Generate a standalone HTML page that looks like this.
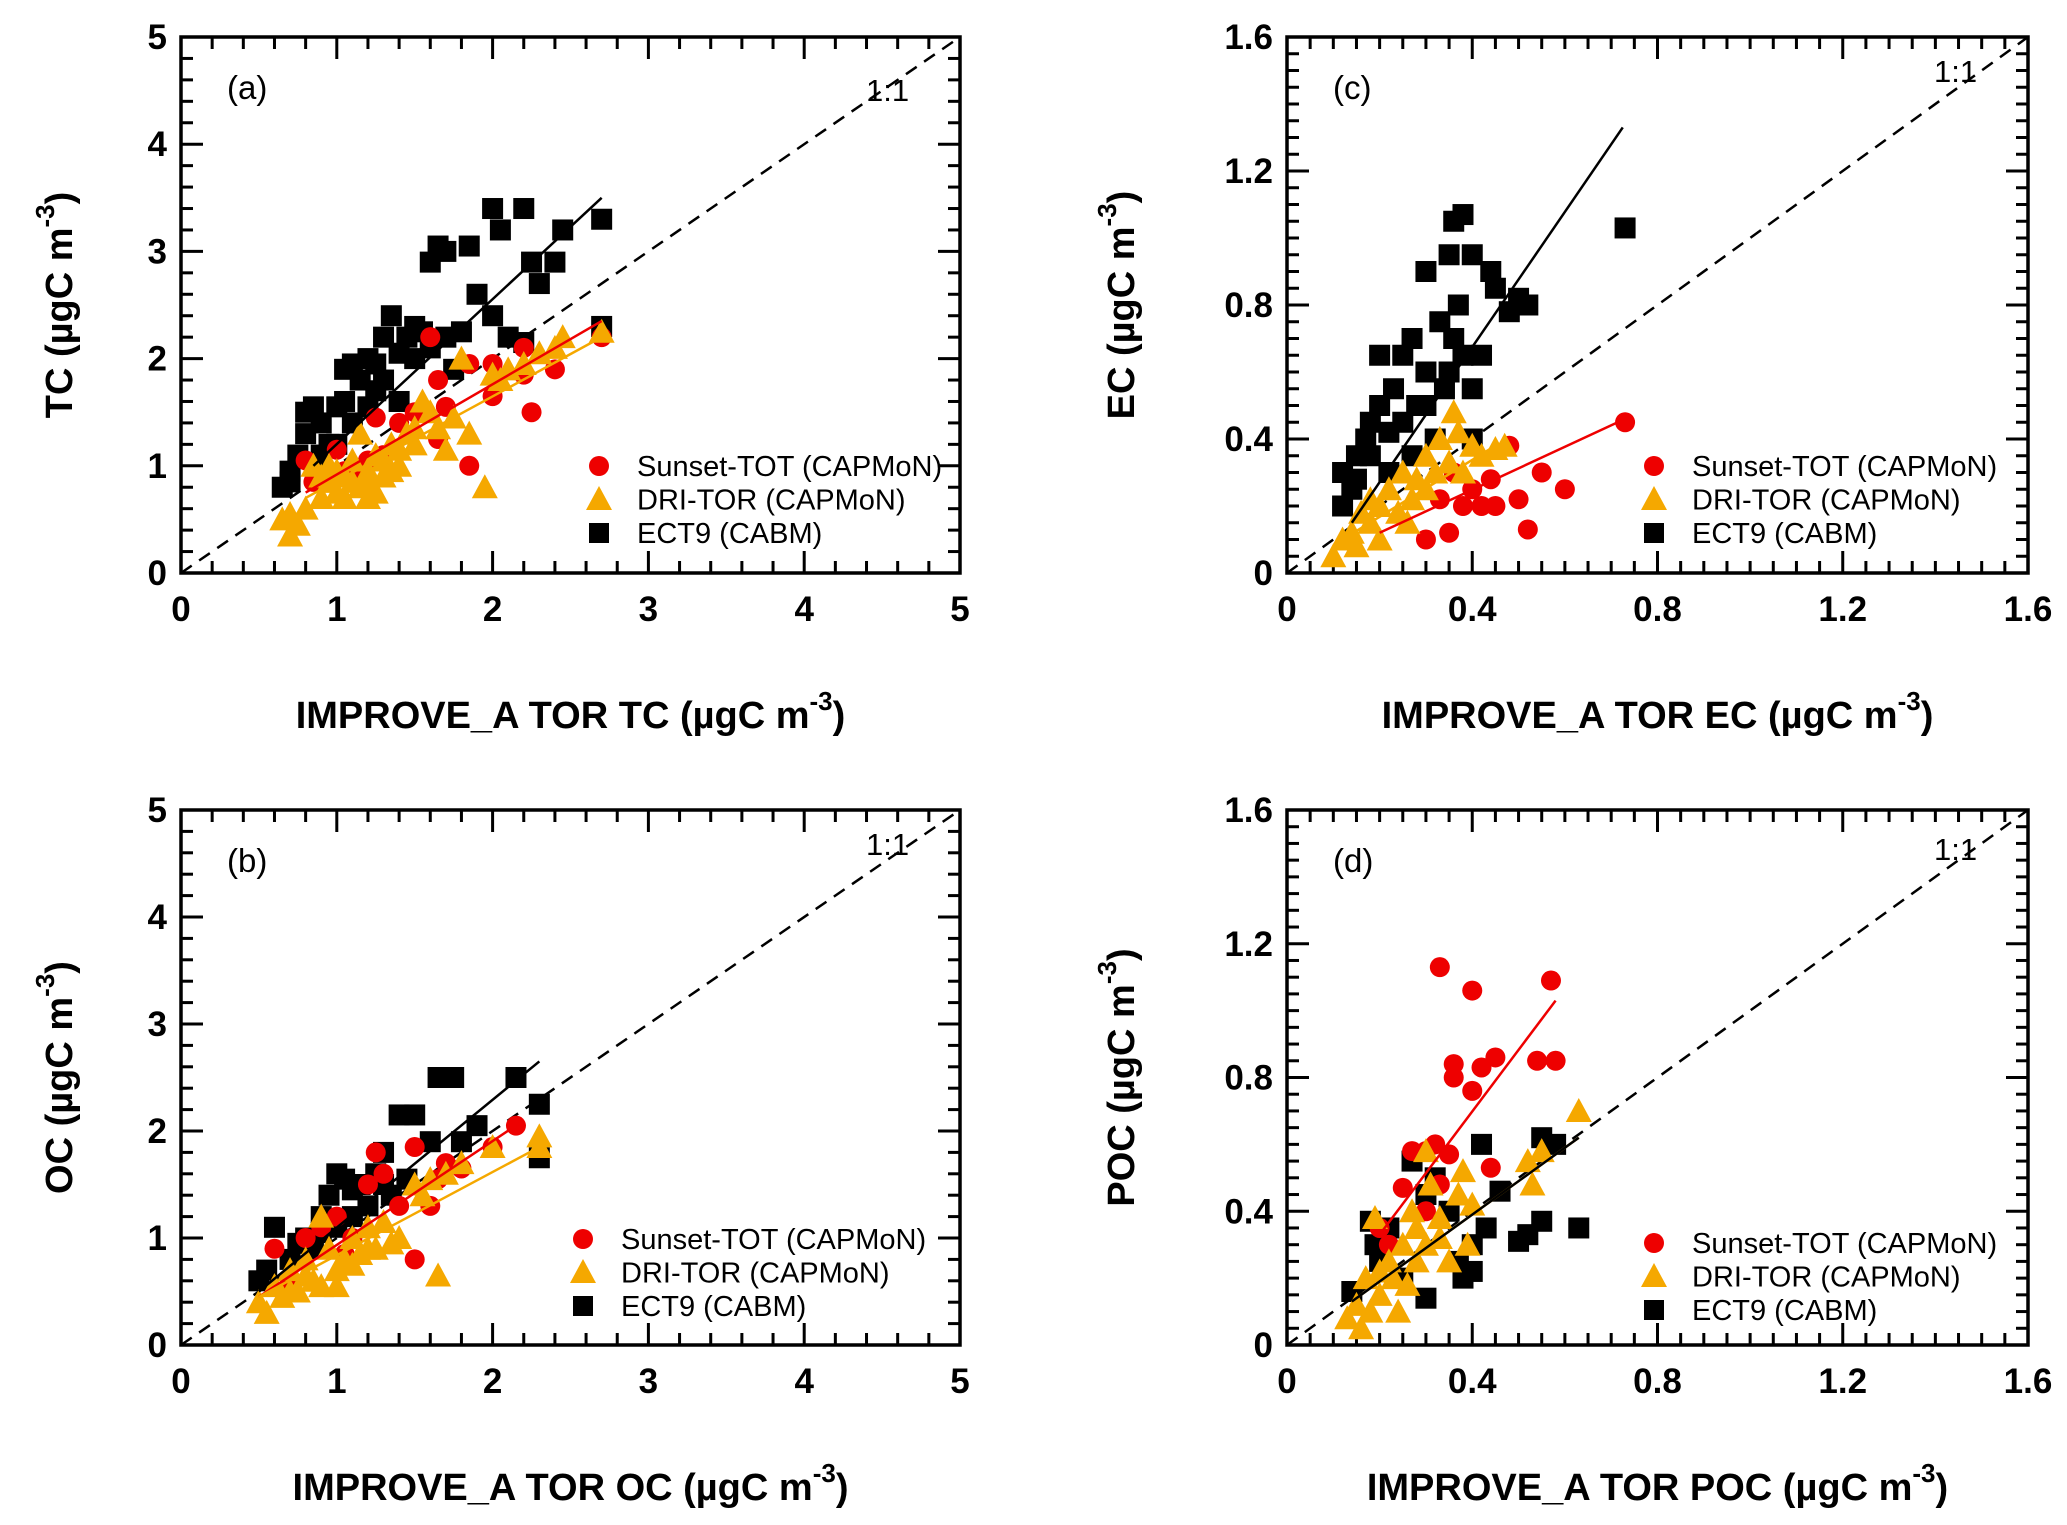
<!DOCTYPE html>
<html><head><meta charset="utf-8"><style>
html,body{margin:0;padding:0;background:#fff}
svg{display:block}
text{font-family:"Liberation Sans",Arial,sans-serif}
</style></head><body>
<svg id="fig" width="2067" height="1525" viewBox="0 0 2067 1525" xmlns="http://www.w3.org/2000/svg"></svg>
<script>
// ---- Panel (a) TC ----
const aBlack=[[0.65,0.8],[0.7,0.95],[0.7,0.85],[0.8,1.5],[0.85,1.55],[0.8,1.3],[0.9,1.4],[0.95,1.2],[1.0,1.55],[1.05,1.9],[1.1,1.95],[1.15,1.8],[1.2,2.0],[1.25,1.7],[1.3,2.2],[1.35,2.4],[1.4,1.6],[1.45,2.2],[1.5,2.3],[1.55,2.25],[1.6,2.9],[1.65,3.05],[1.7,3.0],[1.75,1.9],[1.8,2.25],[1.85,3.05],[1.9,2.6],[2.0,2.4],[2.0,3.4],[2.05,3.2],[2.1,2.2],[2.2,3.4],[2.25,2.9],[2.3,2.7],[2.4,2.9],[2.45,3.2],[2.7,3.3],[2.7,2.3],[1.0,1.2],[1.1,1.4],[0.9,1.1],[1.2,1.55],[1.3,1.8],[1.5,2.0],[2.2,2.15],[0.75,1.1],[1.05,1.6],[1.25,1.95],[1.4,2.05],[1.6,2.1],[1.7,2.2]];
const aRed=[[0.8,1.05],[0.85,0.85],[1.0,1.15],[1.05,0.95],[1.2,1.05],[1.25,1.45],[1.4,1.4],[1.5,1.5],[1.6,2.2],[1.65,1.8],[1.7,1.55],[1.65,1.25],[1.85,1.0],[1.85,1.95],[2.0,1.95],[2.0,1.65],[2.2,2.1],[2.2,1.85],[2.25,1.5],[2.4,1.9],[2.7,2.2],[1.3,1.1],[1.1,0.9]];
const aOrange=[[0.65,0.5],[0.7,0.35],[0.7,0.55],[0.75,0.45],[0.8,0.6],[0.85,1.0],[0.9,0.7],[0.95,0.85],[1.0,0.75],[1.0,0.95],[1.05,0.7],[1.1,0.85],[1.1,1.05],[1.15,1.3],[1.2,0.7],[1.2,0.95],[1.25,0.75],[1.3,1.05],[1.3,0.9],[1.35,1.2],[1.4,1.0],[1.45,1.3],[1.5,1.2],[1.55,1.6],[1.6,1.5],[1.65,1.35],[1.7,1.15],[1.75,1.45],[1.8,2.0],[1.85,1.3],[1.95,0.8],[2.0,1.85],[2.05,1.8],[2.1,1.9],[2.2,1.95],[2.3,2.05],[2.4,2.1],[2.45,2.2],[2.7,2.25],[0.95,1.0],[1.15,0.8],[1.35,0.95],[1.25,1.1],[0.9,0.9],[1.05,0.9],[1.2,0.85],[1.4,1.15],[1.5,1.35]];
const aFits=[["#000",0.85,1.0,2.7,3.5],["#e00",0.8,0.75,2.7,2.35],["#f5a800",0.8,0.7,2.7,2.2]];
// ---- Panel (b) OC ----
const bBlack=[[0.5,0.6],[0.55,0.7],[0.6,1.1],[0.7,0.8],[0.75,0.95],[0.8,1.0],[0.9,1.2],[0.95,1.4],[1.0,1.6],[1.05,1.55],[1.1,1.2],[1.15,1.5],[1.2,1.3],[1.25,1.6],[1.3,1.8],[1.35,1.4],[1.4,2.15],[1.45,1.55],[1.5,2.15],[1.6,1.9],[1.65,2.5],[1.75,2.5],[1.8,1.9],[1.9,2.05],[2.15,2.5],[2.3,2.25],[2.3,1.75],[1.0,1.1],[0.85,0.9],[0.9,1.05],[1.1,1.45],[1.3,1.5]];
const bRed=[[0.6,0.9],[0.8,1.0],[0.9,1.1],[1.0,1.2],[1.1,1.0],[1.2,1.5],[1.25,1.8],[1.3,1.6],[1.5,0.8],[1.5,1.85],[1.6,1.3],[1.65,1.55],[1.7,1.7],[1.8,1.65],[2.0,1.85],[2.15,2.05],[1.4,1.3],[0.7,0.6],[1.05,0.85]];
const bOrange=[[0.5,0.4],[0.55,0.3],[0.6,0.55],[0.65,0.45],[0.7,0.7],[0.75,0.5],[0.8,0.8],[0.85,0.6],[0.9,0.55],[0.95,0.9],[1.0,0.7],[1.05,0.8],[1.1,1.0],[1.15,0.85],[1.2,1.1],[1.25,0.9],[1.3,1.15],[1.35,0.95],[1.4,1.0],[1.5,1.5],[1.55,1.4],[1.6,1.55],[1.65,0.65],[1.7,1.6],[1.8,1.7],[2.0,1.85],[2.3,1.95],[2.3,1.85],[0.7,0.5],[0.9,1.2],[1.0,0.55],[0.8,0.65],[1.1,0.75],[1.2,0.9]];
const bFits=[["#000",0.5,0.5,2.3,2.65],["#e00",0.5,0.45,2.2,2.1],["#f5a800",0.5,0.45,2.3,1.85]];
// ---- Panel (c) EC ----
const cBlack=[[0.12,0.2],[0.12,0.3],[0.14,0.25],[0.15,0.35],[0.17,0.4],[0.18,0.45],[0.2,0.5],[0.2,0.65],[0.22,0.3],[0.23,0.55],[0.25,0.45],[0.25,0.65],[0.27,0.7],[0.28,0.5],[0.3,0.9],[0.3,0.6],[0.32,0.4],[0.33,0.75],[0.34,0.55],[0.35,0.95],[0.36,1.05],[0.37,0.8],[0.38,1.07],[0.38,0.65],[0.4,0.95],[0.4,0.4],[0.42,0.65],[0.44,0.9],[0.45,0.85],[0.48,0.78],[0.5,0.82],[0.52,0.8],[0.73,1.03],[0.35,0.6],[0.27,0.35],[0.15,0.28],[0.18,0.35],[0.22,0.42],[0.3,0.5],[0.36,0.7],[0.4,0.55]];
const cRed=[[0.3,0.1],[0.35,0.12],[0.38,0.2],[0.4,0.25],[0.42,0.2],[0.44,0.28],[0.45,0.2],[0.48,0.38],[0.5,0.22],[0.52,0.13],[0.55,0.3],[0.6,0.25],[0.73,0.45],[0.36,0.3],[0.33,0.22]];
const cOrange=[[0.1,0.05],[0.12,0.1],[0.14,0.12],[0.15,0.08],[0.16,0.18],[0.18,0.15],[0.2,0.2],[0.2,0.1],[0.22,0.25],[0.24,0.18],[0.25,0.3],[0.27,0.22],[0.28,0.28],[0.3,0.35],[0.3,0.25],[0.32,0.3],[0.33,0.4],[0.35,0.33],[0.36,0.48],[0.37,0.42],[0.38,0.3],[0.4,0.38],[0.42,0.35],[0.45,0.37],[0.47,0.38],[0.26,0.15],[0.18,0.22]];
const cFits=[["#000",0.14,0.15,0.725,1.33],["#e00",0.2,0.12,0.73,0.46],["#f5a800",0.12,0.1,0.45,0.38]];
// ---- Panel (d) POC ----
const dBlack=[[0.14,0.16],[0.18,0.37],[0.19,0.3],[0.2,0.25],[0.22,0.35],[0.25,0.2],[0.27,0.55],[0.3,0.14],[0.3,0.45],[0.32,0.5],[0.35,0.4],[0.37,0.25],[0.38,0.2],[0.4,0.3],[0.42,0.6],[0.43,0.35],[0.46,0.46],[0.5,0.31],[0.52,0.33],[0.55,0.37],[0.55,0.62],[0.58,0.6],[0.63,0.35],[0.4,0.22]];
const dRed=[[0.2,0.35],[0.22,0.3],[0.25,0.47],[0.27,0.58],[0.3,0.58],[0.32,0.6],[0.33,1.13],[0.35,0.57],[0.36,0.8],[0.36,0.84],[0.4,1.06],[0.4,0.76],[0.42,0.83],[0.44,0.53],[0.45,0.86],[0.54,0.85],[0.57,1.09],[0.58,0.85],[0.3,0.4],[0.33,0.48]];
const dOrange=[[0.13,0.08],[0.15,0.12],[0.17,0.2],[0.18,0.1],[0.19,0.38],[0.2,0.15],[0.22,0.25],[0.23,0.2],[0.25,0.3],[0.26,0.18],[0.27,0.4],[0.28,0.35],[0.3,0.58],[0.3,0.3],[0.31,0.48],[0.33,0.38],[0.35,0.25],[0.37,0.45],[0.38,0.52],[0.39,0.3],[0.4,0.42],[0.52,0.55],[0.53,0.48],[0.55,0.58],[0.63,0.7],[0.24,0.1],[0.16,0.05],[0.2,0.22],[0.28,0.25],[0.33,0.32]];
const dFits=[["#e00",0.2,0.33,0.58,1.03],["#f5a800",0.14,0.13,0.63,0.62],["#000",0.14,0.13,0.63,0.62]];
const ticks5=["0","1","2","3","4","5"];
const ticks16=["0","0.4","0.8","1.2","1.6"];

const NS="http://www.w3.org/2000/svg";
const svg=document.getElementById('fig');
function mk(tag,attrs,parent){const e=document.createElementNS(NS,tag);for(const k in attrs)e.setAttribute(k,attrs[k]);(parent||svg).appendChild(e);return e;}

function panel(o){
  const g=mk('g',{});
  
  
  const L=o.box[0],R=o.box[1],T=o.box[2],B=o.box[3];
  const sx=v=>L+(v/o.max)*(R-L), sy=v=>B-(v/o.max)*(B-T);
  const cid='clip'+o.id;
  const cp=mk('clipPath',{id:cid},g);mk('rect',{x:L,y:T,width:R-L,height:B-T},cp);
  const nMin=Math.round(o.max/o.minor);
  for(let i=1;i<nMin;i++){
    const v=i*o.minor; const maj=Math.abs(v/o.major-Math.round(v/o.major))<1e-6;
    const len=maj?22:12; const x=sx(v), y=sy(v);
    mk('line',{x1:x,y1:B,x2:x,y2:B-len,stroke:'#000','stroke-width':3},g);
    mk('line',{x1:x,y1:T,x2:x,y2:T+len,stroke:'#000','stroke-width':3},g);
    mk('line',{x1:L,y1:y,x2:L+len,y2:y,stroke:'#000','stroke-width':3},g);
    mk('line',{x1:R,y1:y,x2:R-len,y2:y,stroke:'#000','stroke-width':3},g);
  }
  o.labels.forEach((t,i)=>{
    const v=i*o.major;
    const tx=mk('text',{x:sx(v),y:B+48,'font-size':35,'font-weight':'bold','text-anchor':'middle'},g);tx.textContent=t;
    
    const ty=mk('text',{x:L-14,y:sy(v)+12,'font-size':35,'font-weight':'bold','text-anchor':'end'},g);ty.textContent=t;
    
  });
  const one=mk('line',{x1:sx(0),y1:sy(0),x2:sx(o.max),y2:sy(o.max),stroke:'#000','stroke-width':2.5,'stroke-dasharray':'13 9','clip-path':'url(#'+cid+')'},g);
  
  const pg=mk('g',{'clip-path':'url(#'+cid+')'},g);
  function sq(p){const s=21;const r=mk('rect',{x:sx(p[0])-s/2,y:sy(p[1])-s/2,width:s,height:s,fill:'#000'},pg);
    }
  function ci(p){const c=mk('circle',{cx:sx(p[0]),cy:sy(p[1]),r:10,fill:'#ee0000'},pg);
    }
  function tr(p){const x=sx(p[0]),y=sy(p[1]);const t=mk('polygon',{points:`${x},${y-13} ${x-13},${y+11} ${x+13},${y+11}`,fill:'#f5a800'},pg);
    }
  o.black.forEach(sq);o.red.forEach(ci);o.orange.forEach(tr);
  o.fits.forEach(f=>{const l=mk('line',{x1:sx(f[1]),y1:sy(f[2]),x2:sx(f[3]),y2:sy(f[4]),stroke:f[0],'stroke-width':2.5},g);
    });
  mk('rect',{x:L,y:T,width:R-L,height:B-T,fill:'none',stroke:'#000','stroke-width':3.5},g);
  const pl=mk('text',{x:L+46,y:T+62,'font-size':33},g);pl.textContent='('+o.id+')';
  
  const ol=mk('text',{x:R-94,y:T+o.oneY,'font-size':31},g);ol.textContent='1:1';
  
  const lg=mk('g',{},g);
  const lx=o.leg[0],ly=o.leg[1];
  mk('circle',{cx:lx,cy:ly,r:10,fill:'#ee0000'},lg);
  mk('polygon',{points:`${lx},${ly+33-13} ${lx-13},${ly+33+11} ${lx+13},${ly+33+11}`,fill:'#f5a800'},lg);
  mk('rect',{x:lx-10,y:ly+67-10,width:20,height:20,fill:'#000'},lg);
  ['Sunset-TOT (CAPMoN)','DRI-TOR (CAPMoN)','ECT9 (CABM)'].forEach((s,i)=>{
    const t=mk('text',{x:lx+38,y:ly+10+i*33.5,'font-size':29},lg);t.textContent=s;
    });
  const xt=mk('text',{x:(L+R)/2,y:B+155,'font-size':38,'font-weight':'bold','text-anchor':'middle'},g);
  xt.innerHTML='IMPROVE_A TOR '+o.name+' (µgC m<tspan dy="-18" font-size="26">-3</tspan><tspan dy="18">)</tspan>';
  
  const cy=(T+B)/2, cx=o.ytx;
  const yt=mk('text',{x:cx,y:cy,'font-size':38,'font-weight':'bold','text-anchor':'middle',transform:`rotate(-90 ${cx} ${cy})`},g);
  yt.innerHTML=o.name+'  (µgC m<tspan dy="-18" font-size="26">-3</tspan><tspan dy="18">)</tspan>';
  
}
panel({id:'a',name:'TC',box:[181,960,37,573],max:5,major:1,minor:0.2,labels:ticks5,black:aBlack,red:aRed,orange:aOrange,fits:aFits,leg:[599,466],oneY:64,ytx:72});
panel({id:'b',name:'OC',box:[181,960,810,1345],max:5,major:1,minor:0.2,labels:ticks5,black:bBlack,red:bRed,orange:bOrange,fits:bFits,leg:[583,1239],oneY:45,ytx:72});
panel({id:'c',name:'EC',box:[1287,2028,37,573],max:1.6,major:0.4,minor:0.05,labels:ticks16,black:cBlack,red:cRed,orange:cOrange,fits:cFits,leg:[1654,466],oneY:45,ytx:1134});
panel({id:'d',name:'POC',box:[1287,2028,810,1345],max:1.6,major:0.4,minor:0.05,labels:ticks16,black:dBlack,red:dRed,orange:dOrange,fits:dFits,leg:[1654,1243],oneY:50,ytx:1134});
</script>
</body></html>
